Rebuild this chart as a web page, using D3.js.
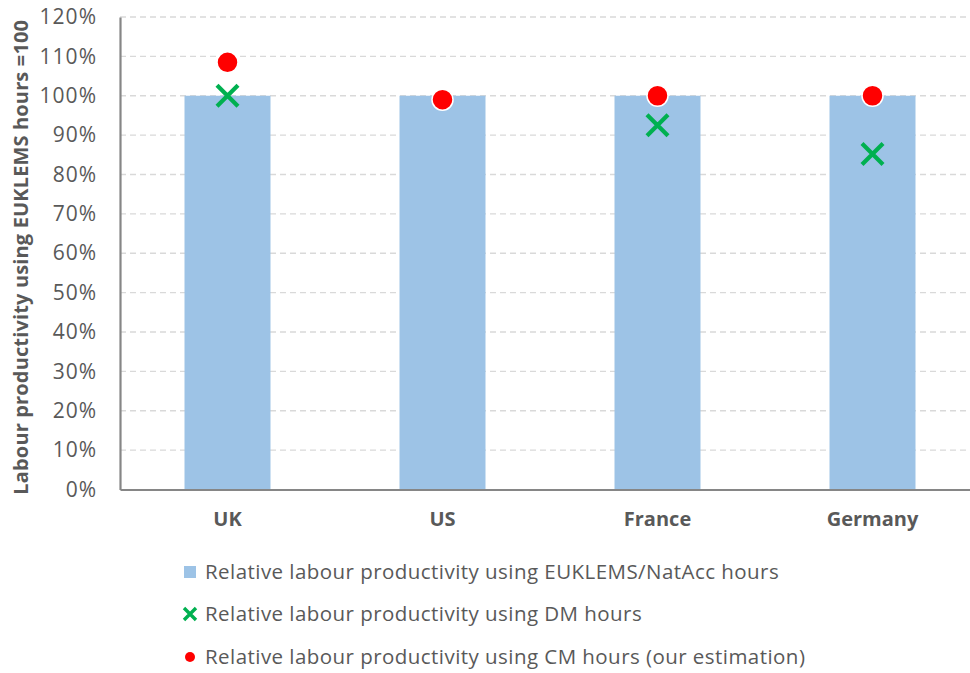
<!DOCTYPE html>
<html>
<head>
<meta charset="utf-8">
<script src="https://cdn.jsdelivr.net/npm/d3@7"></script>
<style>
  html, body { margin: 0; padding: 0; background: #fff; }
  svg { display: block; font-family: "Open Sans", sans-serif; }
</style>
</head>
<body>
<svg id="chart" width="970" height="673"></svg>
<script>
// Countries compared
const countries = ["UK", "US", "France", "Germany"];
// Relative labour productivity (EUKLEMS hours = 100), in percent
const euklemsValues = [100, 100, 100, 100];
const dmValues = [100, null, 92.5, 85.2];
const cmValues = [108.5, 99.0, 100, 100];
// Y axis ticks (percent)
const yTicks = [0, 10, 20, 30, 40, 50, 60, 70, 80, 90, 100, 110, 120];
const legendLabels = [
  "Relative labour productivity using EUKLEMS/NatAcc hours",
  "Relative labour productivity using DM hours",
  "Relative labour productivity using CM hours (our estimation)"
];

const svg = d3.select("#chart");
const margin = { left: 120, right: -10, top: 17, bottom: 183 };
const W = 970, H = 673;
const fontFamily = "'Open Sans', sans-serif";

const x = d3.scaleBand()
  .domain(countries)
  .range([margin.left, W - margin.right])
  .paddingInner(0.6)
  .paddingOuter(0.3);

const y = d3.scaleLinear()
  .domain([0, 120])
  .range([H - margin.bottom - 0.5, margin.top]);

const textColor = "#595959";

// Gridlines
svg.append("g")
  .selectAll("line")
  .data(yTicks.filter(d => d > 0))
  .join("line")
  .attr("x1", margin.left)
  .attr("x2", W)
  .attr("y1", d => y(d))
  .attr("y2", d => y(d))
  .attr("stroke", "#d9d9d9")
  .attr("stroke-width", 1.3)
  .attr("stroke-dasharray", "6,4");

// Bars
svg.append("g")
  .selectAll("rect")
  .data(countries)
  .join("rect")
  .attr("x", d => x(d))
  .attr("width", x.bandwidth())
  .attr("y", (d, i) => y(euklemsValues[i]))
  .attr("height", (d, i) => y(0) - y(euklemsValues[i]))
  .attr("fill", "#9dc3e6");

// Axes
const yAxis = svg.append("g")
  .attr("transform", `translate(${margin.left},0)`)
  .call(d3.axisLeft(y).tickValues(yTicks).tickFormat(d => d + "%").tickSize(0).tickPadding(23));
yAxis.select(".domain").attr("stroke", "#868686").attr("stroke-width", 2.2);
yAxis.selectAll("text")
  .attr("fill", textColor)
  .style("font-size", "21px")
  .style("letter-spacing", "1px")
  .style("font-family", fontFamily);

const xAxis = svg.append("g")
  .attr("transform", `translate(0,${y(0)})`)
  .call(d3.axisBottom(x).tickSize(0).tickPadding(22));
xAxis.select(".domain").attr("stroke", "#868686").attr("stroke-width", 2.2);
xAxis.selectAll("text")
  .attr("fill", textColor)
  .style("font-size", "20px")
  .style("font-weight", "bold")
  .style("font-family", fontFamily);

// Y axis title
svg.append("text")
  .attr("transform", `translate(28,${(y(0) + y(120)) / 2 + 4}) rotate(-90)`)
  .attr("text-anchor", "middle")
  .attr("fill", textColor)
  .style("font-size", "20px")
  .style("letter-spacing", "0.15px")
  .style("font-weight", "bold")
  .text("Labour productivity using EUKLEMS hours =100");

// Cross marker path
const crossPath = s => `M${-s},${-s}L${s},${s}M${-s},${s}L${s},${-s}`;

// DM hours crosses
svg.append("g")
  .selectAll("path")
  .data(countries.map((c, i) => ({ c, v: dmValues[i] })).filter(d => d.v != null))
  .join("path")
  .attr("transform", d => `translate(${x(d.c) + x.bandwidth() / 2},${y(d.v)})`)
  .attr("d", crossPath(10.5))
  .attr("stroke", "#00b050")
  .attr("stroke-width", 4.2)
  .attr("fill", "none");

// CM hours dots
svg.append("g")
  .selectAll("circle")
  .data(countries.map((c, i) => ({ c, v: cmValues[i] })))
  .join("circle")
  .attr("cx", d => x(d.c) + x.bandwidth() / 2)
  .attr("cy", d => y(d.v))
  .attr("r", 10.5)
  .attr("fill", "#ff0000")
  .attr("stroke", "#fff")
  .attr("stroke-width", 1.5);

// Legend
const legend = svg.append("g");
const legendY = [572, 614, 657];
const legendX = 190;
legend.append("rect")
  .attr("x", legendX - 6).attr("y", legendY[0] - 6)
  .attr("width", 12).attr("height", 12)
  .attr("fill", "#9dc3e6");
legend.append("path")
  .attr("transform", `translate(${legendX},${legendY[1]})`)
  .attr("d", crossPath(6))
  .attr("stroke", "#00b050")
  .attr("stroke-width", 3.4)
  .attr("fill", "none");
legend.append("circle")
  .attr("cx", legendX).attr("cy", legendY[2])
  .attr("r", 5).attr("fill", "#ff0000");
legend.selectAll("text")
  .data(legendLabels)
  .join("text")
  .attr("x", legendX + 15)
  .attr("y", (d, i) => legendY[i])
  .attr("dy", "0.35em")
  .attr("fill", textColor)
  .style("font-size", "20.5px")
  .style("letter-spacing", "0.45px")
  .style("font-family", fontFamily)
  .text(d => d);
</script>
</body>
</html>
